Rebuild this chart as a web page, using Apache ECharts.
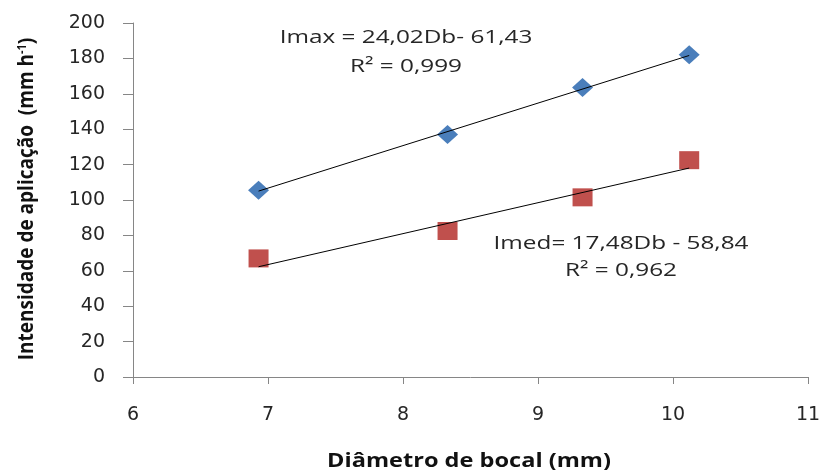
<!DOCTYPE html>
<html>
<head>
<meta charset="utf-8">
<script src="https://cdn.jsdelivr.net/npm/echarts@6/dist/echarts.min.js"></script>
<style>html,body{margin:0;padding:0;background:#fff}#c{width:824px;height:470px}</style>
</head>
<body>
<div id="c"></div>
<script>
// Data
var diametro = [6.93, 8.33, 9.33, 10.12];
var imax = [105.5, 137, 163.6, 182];
var imed = [67, 82.5, 101.5, 122.5];
// Trend line coefficients (from the printed equations)
var imaxFit = {slope: 24.02, intercept: -61.43};
var imedFit = {slope: 17.48, intercept: -58.84};
var xTicks = [6, 7, 8, 9, 10, 11];
var yTicks = [0, 20, 40, 60, 80, 100, 120, 140, 160, 180, 200];

function pairs(xs, ys) { return xs.map(function (x, i) { return [x, ys[i]]; }); }
function trend(fit) {
  var x0 = Math.min.apply(null, diametro), x1 = Math.max.apply(null, diametro);
  return [[x0, fit.slope * x0 + fit.intercept], [x1, fit.slope * x1 + fit.intercept]];
}

var FONT = '"Open Sans", "Noto Sans", sans-serif';
var TICKFONT = '"DejaVu Sans", sans-serif';
var TXT = '#262626';
var chart = echarts.init(document.getElementById('c'), null, {renderer: 'canvas'});
chart.setOption({
  animation: false,
  backgroundColor: '#ffffff',
  grid: {left: 133, right: 16, top: 23, bottom: 93},
  xAxis: {
    type: 'value', min: xTicks[0], max: xTicks[xTicks.length - 1], interval: 1,
    axisLine: {lineStyle: {color: '#868686', width: 1}},
    axisTick: {show: true, length: 7, lineStyle: {color: '#868686'}},
    axisLabel: {color: TXT, fontSize: 19, fontFamily: TICKFONT, margin: 29},
    splitLine: {show: false}
  },
  yAxis: {
    type: 'value', min: yTicks[0], max: yTicks[yTicks.length - 1], interval: 20,
    axisLine: {show: true, lineStyle: {color: '#868686', width: 1}},
    axisTick: {show: true, length: 10, lineStyle: {color: '#868686'}},
    axisLabel: {color: TXT, fontSize: 19, fontFamily: TICKFONT, margin: 28},
    splitLine: {show: false}
  },
  series: [
    {type: 'scatter', data: pairs(diametro, imax), symbol: 'diamond', symbolSize: [21, 19],
     itemStyle: {color: '#4A7EBB', opacity: 1}, z: 2},
    {type: 'scatter', data: pairs(diametro, imed), symbol: 'rect', symbolSize: [20, 18],
     itemStyle: {color: '#C0504D', opacity: 1}, z: 2},
    {type: 'line', data: trend(imaxFit), showSymbol: false, symbol: 'none',
     lineStyle: {color: '#000', width: 1}, z: 3},
    {type: 'line', data: trend(imedFit), showSymbol: false, symbol: 'none',
     lineStyle: {color: '#000', width: 1}, z: 3}
  ],
  graphic: [
    {type: 'text', x: 406, y: 38, scaleX: 1.28, style: {text: 'Imax = 24,02Db- 61,43', font: '19px ' + FONT, fill: TXT, align: 'center', verticalAlign: 'middle'}},
    {type: 'text', x: 406, y: 67, scaleX: 1.28, style: {text: 'R² = 0,999', font: '19px ' + FONT, fill: TXT, align: 'center', verticalAlign: 'middle'}},
    {type: 'text', x: 621, y: 244, scaleX: 1.28, style: {text: 'Imed= 17,48Db - 58,84', font: '19px ' + FONT, fill: TXT, align: 'center', verticalAlign: 'middle'}},
    {type: 'text', x: 621, y: 271, scaleX: 1.28, style: {text: 'R² = 0,962', font: '19px ' + FONT, fill: TXT, align: 'center', verticalAlign: 'middle'}},
    {type: 'text', x: 469, y: 462, scaleX: 1.24, style: {text: 'Diâmetro de bocal (mm)', font: 'bold 19px ' + FONT, fill: '#111', align: 'center', verticalAlign: 'middle'}},
    {type: 'text', x: 27, y: 199, rotation: Math.PI / 2, scaleY: 1.15,
     style: {
       text: '{n|Intensidade de aplicação  (mm h}{s|-1}{n|)}',
       align: 'center', verticalAlign: 'middle',
       rich: {
         n: {font: 'bold 19px ' + FONT, fill: '#111', color: '#111'},
         s: {font: 'bold 11px ' + FONT, fill: '#111', color: '#111', verticalAlign: 'top', padding: [0, 0, 8, 0]}
       }
     }}
  ]
});
</script>
</body>
</html>
